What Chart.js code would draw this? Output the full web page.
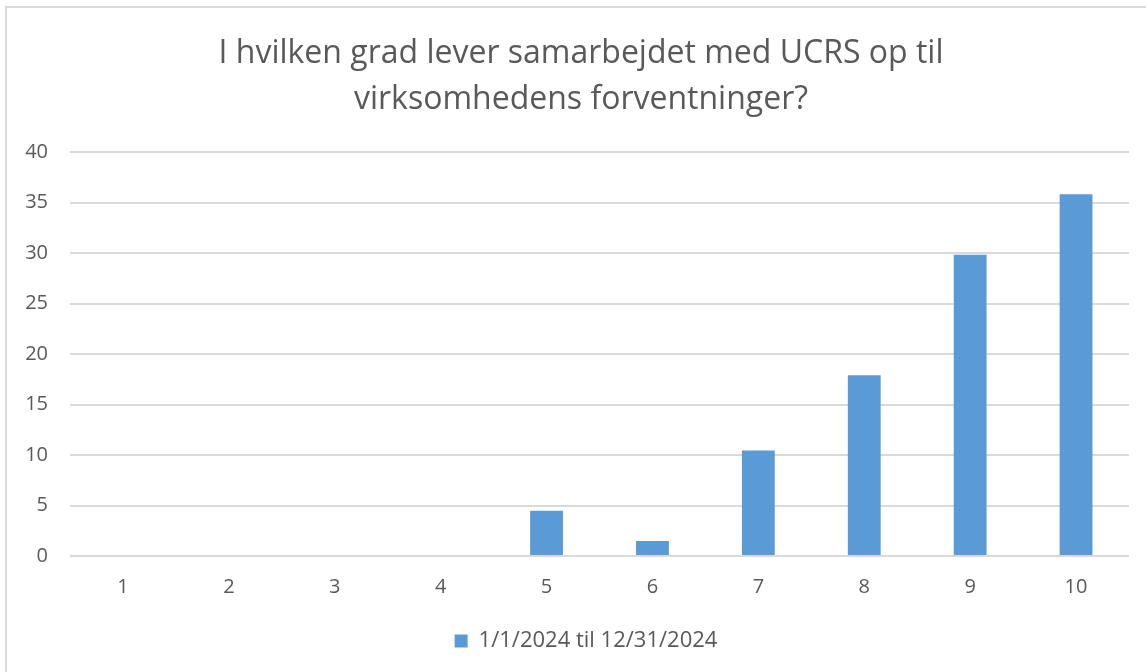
<!DOCTYPE html>
<html>
<head>
<meta charset="utf-8">
<script src="https://cdn.jsdelivr.net/npm/chart.js@4"></script>
<style>
  html, body { margin: 0; padding: 0; background: #fff; overflow: hidden; }
  #frame { position: absolute; left: 5px; top: 6px; width: 1160px; height: 690px; border: 2px solid #d9d9d9; }
  #wrap { position: absolute; left: 0; top: 0; width: 1146px; height: 672px; }
</style>
</head>
<body>
<div id="frame"></div>
<div id="wrap"><canvas id="chart" width="1146" height="672"></canvas></div>
<script>
var categories = ["1", "2", "3", "4", "5", "6", "7", "8", "9", "10"];
var values = [0, 0, 0, 0, 4.48, 1.49, 10.45, 17.91, 29.85, 35.82];
var seriesName = "1/1/2024 til 12/31/2024";
var titleLines = ["I hvilken grad lever samarbejdet med UCRS op til", "virksomhedens forventninger?"];

var textColor = "#595959";
var fontFamily = "'Open Sans', 'Noto Sans', sans-serif";

// title and legend sit a bit right of the canvas middle in the original
var blockShift = {
      id: 'blockShift',
      afterLayout: function(chart) {
            if (chart.titleBlock) chart.titleBlock.left += 23;
            if (chart.legend) chart.legend.left += 33;
      }
};

var ctx = document.getElementById("chart");
var chart = new Chart(ctx, {
      type: 'bar',
      data: {
            labels: categories,
            datasets: [{
                  label: seriesName,
                  data: values,
                  backgroundColor: "#5b9bd5",
                  borderWidth: 0,
                  barPercentage: 0.31,
                  categoryPercentage: 1.0
            }]
      },
      options: {
            responsive: false,
            animation: false,
            layout: { padding: { left: 10, right: 17, top: 31, bottom: 10 } },
            plugins: {
                  title: {
                        display: true,
                        text: titleLines,
                        color: textColor,
                        font: { family: fontFamily, size: 32, weight: 'normal', lineHeight: 1.44 },
                        padding: { top: 0, bottom: 29 }
                  },
                  legend: {
                        position: 'bottom',
                        labels: {
                              color: textColor,
                              font: { family: fontFamily, size: 22 },
                              boxWidth: 13,
                              boxHeight: 13,
                              padding: 12
                        }
                  },
                  tooltip: { enabled: false }
            },
            scales: {
                  x: {
                        grid: { display: false, drawTicks: false },
                        border: { display: false },
                        ticks: { color: textColor, font: { family: fontFamily, size: 20 }, padding: 19 }
                  },
                  y: {
                        min: 0,
                        max: 40,
                        ticks: { stepSize: 5, color: textColor, font: { family: fontFamily, size: 20 }, padding: 22 },
                        grid: { color: "#d9d9d9", lineWidth: 2, drawTicks: false },
                        border: { display: false },
                        afterFit: function(axis) { axis.width = 60; }
                  }
            }
      },
      plugins: [blockShift]
});
</script>
</body>
</html>
